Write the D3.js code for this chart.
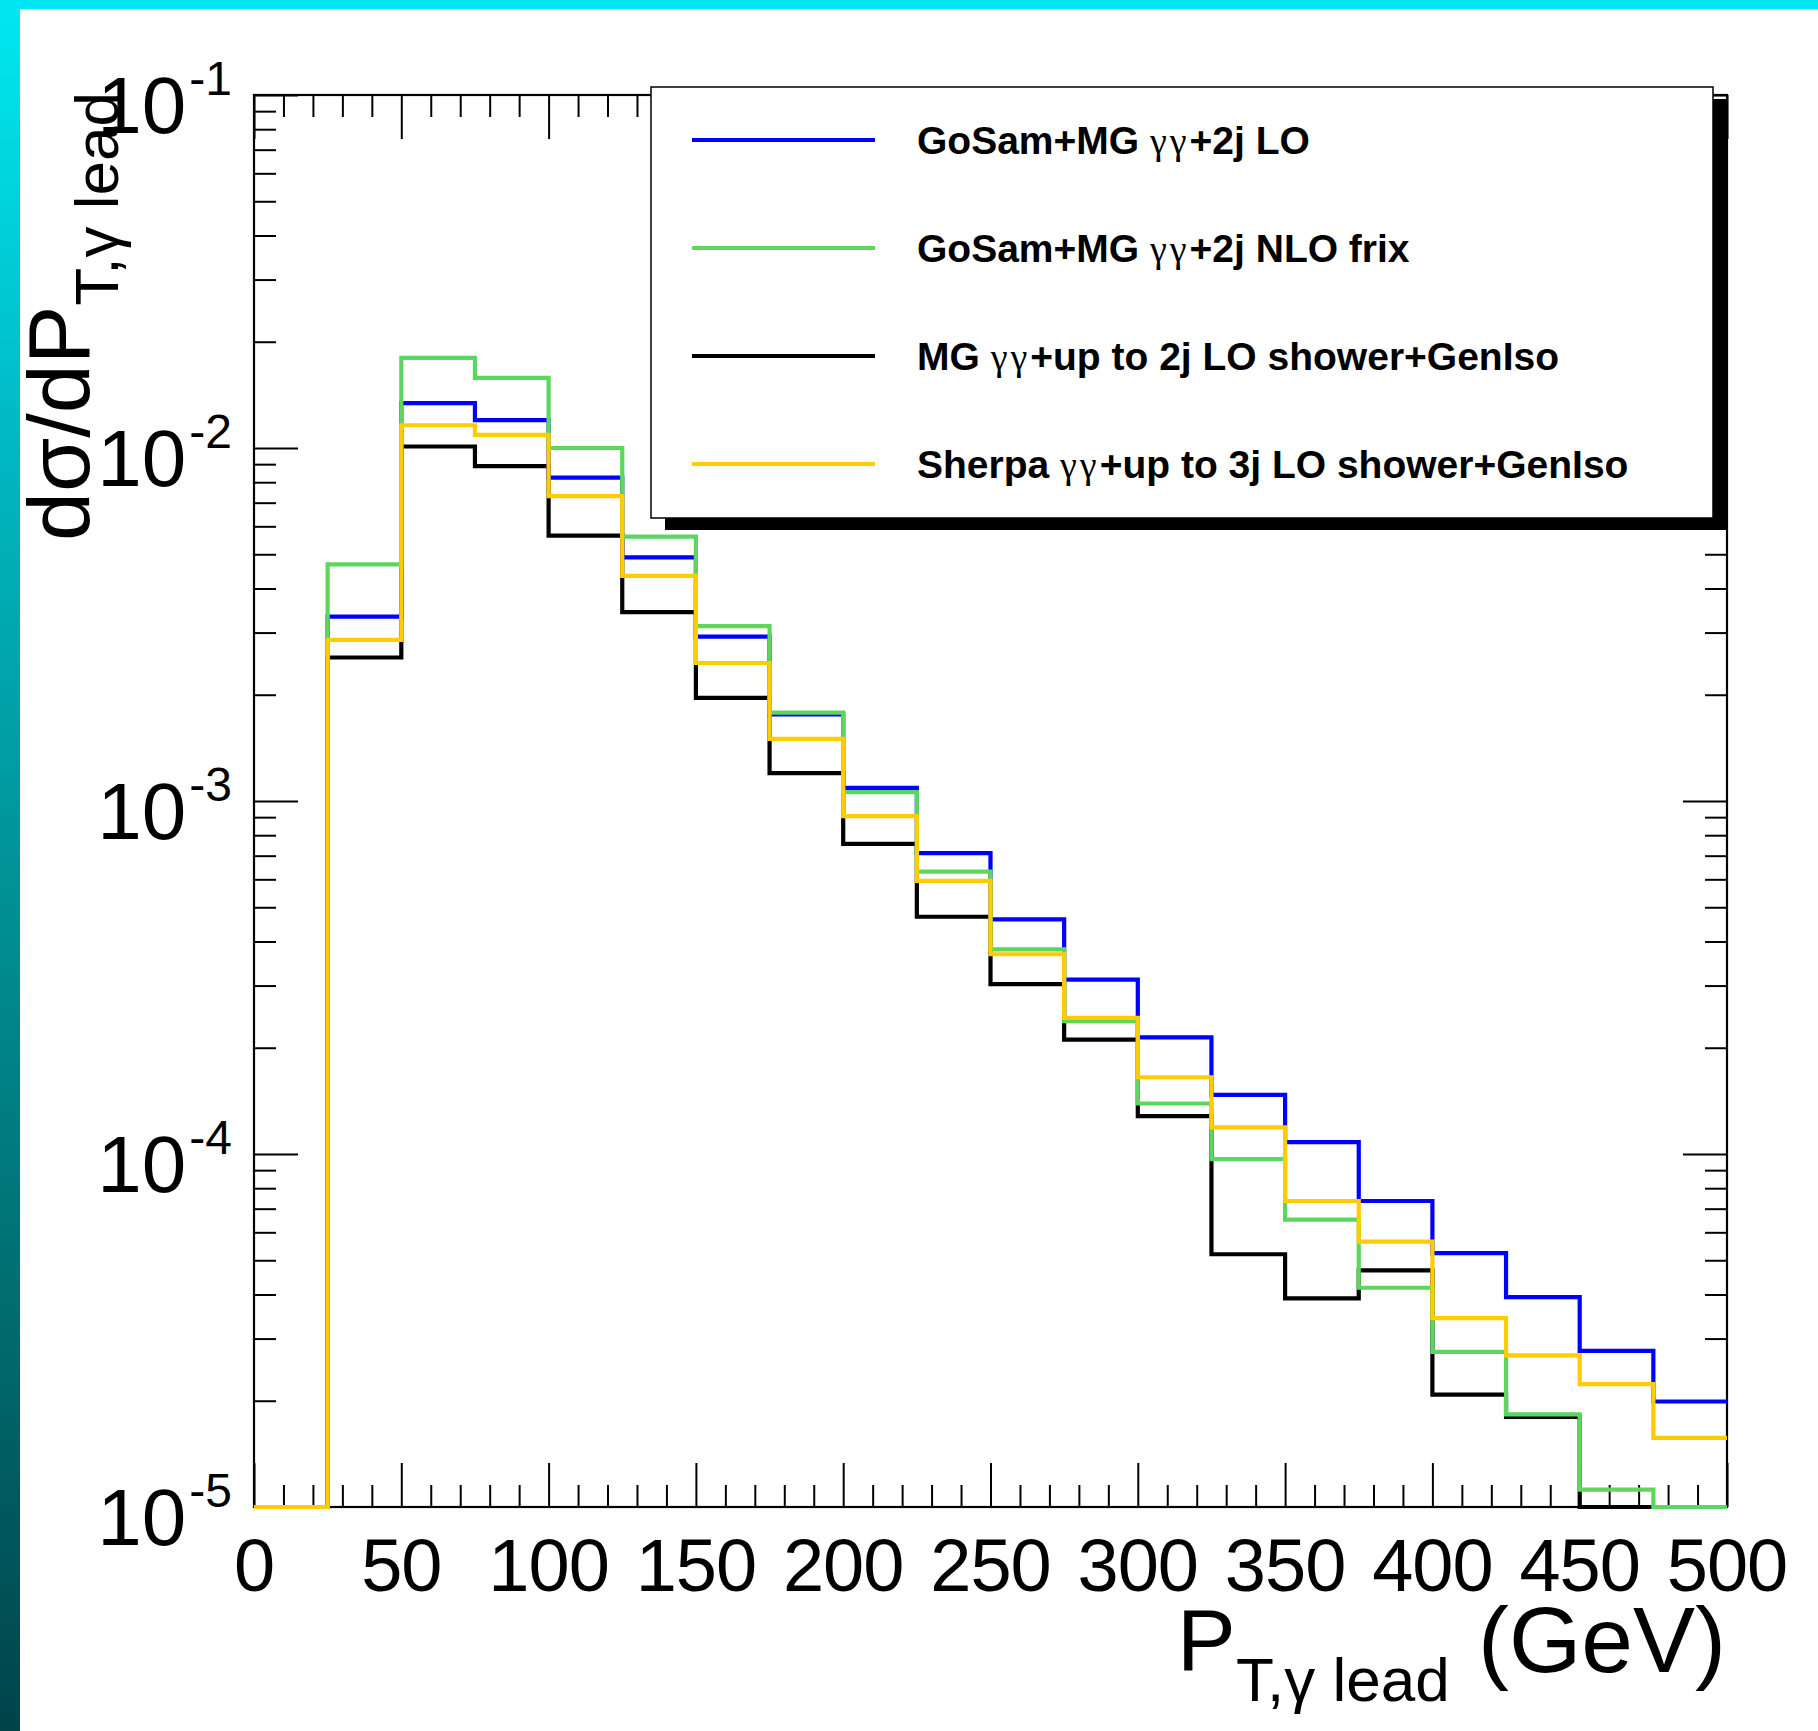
<!DOCTYPE html>
<html>
<head>
<meta charset="utf-8">
<script src="https://cdnjs.cloudflare.com/ajax/libs/d3/7.8.5/d3.min.js"></script>
<style>
  body { margin: 0; background: #fff; }
  svg { display: block; }
  text { font-family: "Liberation Sans", Arial, Helvetica, sans-serif; fill: #000; }
</style>
</head>
<body>
<div id="vis"></div>
<script>
const FRAME_WIDTH = 1818;
const FRAME_HEIGHT = 1731;
const MARGINS = {left: 254, right: 91, top: 95, bottom: 224};
const VIS_WIDTH = FRAME_WIDTH - MARGINS.left - MARGINS.right;
const VIS_HEIGHT = FRAME_HEIGHT - MARGINS.top - MARGINS.bottom;

// bin lower edges (GeV), last edge is 500
const binEdges = [0, 25, 50, 75, 100, 125, 150, 175, 200, 225,
                  250, 275, 300, 325, 350, 375, 400, 425, 450, 475];
const binEnd = 500;

// series values (0 = empty / below the axis)
const gosamLO = [0, 3.33e-3, 1.34e-2, 1.20e-2, 8.24e-3, 4.90e-3, 2.92e-3, 1.76e-3, 1.09e-3, 7.12e-4,
                 4.62e-4, 3.12e-4, 2.14e-4, 1.47e-4, 1.08e-4, 7.36e-5, 5.24e-5, 3.93e-5, 2.77e-5, 1.99e-5];
const gosamNLO = [0, 4.68e-3, 1.80e-2, 1.58e-2, 1.00e-2, 5.61e-3, 3.13e-3, 1.78e-3, 1.06e-3, 6.31e-4,
                  3.80e-4, 2.38e-4, 1.39e-4, 9.67e-5, 6.52e-5, 4.18e-5, 2.75e-5, 1.83e-5, 1.12e-5, 0];
const mgShower = [0, 2.55e-3, 1.01e-2, 8.89e-3, 5.65e-3, 3.43e-3, 1.96e-3, 1.20e-3, 7.56e-4, 4.70e-4,
                  3.03e-4, 2.11e-4, 1.28e-4, 5.20e-5, 3.90e-5, 4.68e-5, 2.08e-5, 1.80e-5, 0, 0];
const sherpaShower = [0, 2.86e-3, 1.16e-2, 1.09e-2, 7.31e-3, 4.34e-3, 2.46e-3, 1.50e-3, 9.06e-4, 5.94e-4,
                      3.68e-4, 2.43e-4, 1.65e-4, 1.19e-4, 7.36e-5, 5.65e-5, 3.43e-5, 2.69e-5, 2.23e-5, 1.57e-5];

// tick labels
const xTickLabels = [0, 50, 100, 150, 200, 250, 300, 350, 400, 450, 500];
const yDecades = [-5, -4, -3, -2, -1];

const legendNames = ["GoSam+MG", "GoSam+MG", "MG", "Sherpa"];
const legendTails = ["+2j LO", "+2j NLO frix", "+up to 2j LO shower+GenIso", "+up to 3j LO shower+GenIso"];

const FRAME1 = d3.select("#vis")
  .append("svg")
    .attr("width", FRAME_WIDTH)
    .attr("height", FRAME_HEIGHT);

// border bands
const grad = FRAME1.append("defs").append("linearGradient")
    .attr("id", "band").attr("x1", 0).attr("y1", 0).attr("x2", 0).attr("y2", 1);
[[0, "#00e8f0"], [0.25, "#00b9c4"], [0.51, "#009296"], [0.77, "#006a6d"], [1, "#00444a"]]
  .forEach(s => grad.append("stop").attr("offset", s[0]).attr("stop-color", s[1]));
FRAME1.append("rect").attr("x", 0).attr("y", 0).attr("width", 20).attr("height", FRAME_HEIGHT)
    .attr("fill", "url(#band)");
FRAME1.append("rect").attr("x", 0).attr("y", 0).attr("width", FRAME_WIDTH).attr("height", 9)
    .attr("fill", "#00e6f0");

const X_SCALE = d3.scaleLinear().domain([0, 500]).range([0, VIS_WIDTH]);
const Y_SCALE = d3.scaleLog().domain([1e-5, 1e-1]).range([VIS_HEIGHT, 0]).clamp(true);

const plot = FRAME1.append("g")
    .attr("transform", "translate(" + MARGINS.left + "," + MARGINS.top + ")");

// frame
plot.append("rect").attr("width", VIS_WIDTH).attr("height", VIS_HEIGHT)
    .attr("fill", "none").attr("stroke", "#000").attr("stroke-width", 2.2);

const xMinor = d3.range(0, 501, 10).filter(v => v % 50 !== 0);
const yMinor = [];
yDecades.slice(0, 4).forEach(d => { for (let k = 2; k <= 9; k++) yMinor.push(k * Math.pow(10, d)); });
const yMajor = yDecades.map(d => Math.pow(10, d));

function styleAxis(g) {
  g.select(".domain").remove();
  g.selectAll(".tick line").attr("stroke", "#000").attr("stroke-width", 2);
  g.selectAll(".tick text").remove();
}

// x ticks bottom and top
plot.append("g").attr("transform", "translate(0," + VIS_HEIGHT + ")")
    .call(d3.axisBottom(X_SCALE).tickValues(xTickLabels).tickSize(-44)).call(styleAxis);
plot.append("g").attr("transform", "translate(0," + VIS_HEIGHT + ")")
    .call(d3.axisBottom(X_SCALE).tickValues(xMinor).tickSize(-22)).call(styleAxis);
plot.append("g")
    .call(d3.axisTop(X_SCALE).tickValues(xTickLabels).tickSize(-44)).call(styleAxis);
plot.append("g")
    .call(d3.axisTop(X_SCALE).tickValues(xMinor).tickSize(-22)).call(styleAxis);

// y ticks left and right
plot.append("g").call(d3.axisLeft(Y_SCALE).tickValues(yMajor).tickSize(-44)).call(styleAxis);
plot.append("g").call(d3.axisLeft(Y_SCALE).tickValues(yMinor).tickSize(-22)).call(styleAxis);
plot.append("g").attr("transform", "translate(" + VIS_WIDTH + ",0)")
    .call(d3.axisRight(Y_SCALE).tickValues(yMajor).tickSize(-44)).call(styleAxis);
plot.append("g").attr("transform", "translate(" + VIS_WIDTH + ",0)")
    .call(d3.axisRight(Y_SCALE).tickValues(yMinor).tickSize(-22)).call(styleAxis);

// x tick labels
plot.selectAll(".xlab").data(xTickLabels).enter().append("text")
    .attr("x", d => X_SCALE(d))
    .attr("y", VIS_HEIGHT + 84)
    .attr("text-anchor", "middle")
    .attr("font-size", 74)
    .attr("letter-spacing", -1)
    .text(d => d);

// y tick labels 10^n
const ylab = plot.selectAll(".ylab").data(yDecades).enter().append("text")
    .attr("x", -22)
    .attr("y", d => Y_SCALE(Math.pow(10, d)) + 38)
    .attr("text-anchor", "end")
    .attr("font-size", 80);
ylab.append("tspan").text("10");
ylab.append("tspan").attr("font-size", 48).attr("dx", 3).attr("dy", -38).text(d => String(d));

// histograms
const SERIES = [
  {vals: mgShower, color: "#000000"},
  {vals: gosamLO, color: "#0000ff"},
  {vals: gosamNLO, color: "#5cd65c"},
  {vals: sherpaShower, color: "#ffcc00"}
];
const stepLine = d3.line()
    .x(d => X_SCALE(d[0]))
    .y(d => Y_SCALE(Math.max(d[1], 1e-5)))
    .curve(d3.curveStepAfter);

SERIES.forEach(s => {
  const pts = binEdges.map((e, i) => [e, s.vals[i]]);
  pts.push([binEnd, s.vals[s.vals.length - 1]]);
  plot.append("path")
      .attr("d", stepLine(pts))
      .attr("fill", "none")
      .attr("stroke", s.color)
      .attr("stroke-width", 4.2);
});

// axis titles
const ytitle = FRAME1.append("text")
    .attr("transform", "translate(89,92) rotate(-90)")
    .attr("text-anchor", "end")
    .attr("font-size", 88);
ytitle.append("tspan").text("d\u03c3/dP");
ytitle.append("tspan").attr("font-size", 62).attr("dy", 29).text("T,\u03b3 lead");

FRAME1.append("text").attr("x", 1177).attr("y", 1670).attr("font-size", 88).text("P");
FRAME1.append("text").attr("x", 1236).attr("y", 1701).attr("font-size", 62).text("T,\u03b3 lead");
FRAME1.append("text").attr("x", 1726).attr("y", 1672).attr("text-anchor", "end")
    .attr("font-size", 93).text("(GeV)");

// legend
const LEG = {x: 651, y: 87, w: 1062, h: 431};
FRAME1.append("rect").attr("x", LEG.x + 14).attr("y", LEG.y + 12)
    .attr("width", LEG.w).attr("height", LEG.h).attr("fill", "#000");
FRAME1.append("rect").attr("x", LEG.x).attr("y", LEG.y)
    .attr("width", LEG.w).attr("height", LEG.h)
    .attr("fill", "#fff").attr("stroke", "#000").attr("stroke-width", 1.5);

const legColors = ["#0000ff", "#5cd65c", "#000000", "#ffcc00"];
const legRows = [140, 248, 356, 464];
legRows.forEach((ry, i) => {
  FRAME1.append("line").attr("x1", 692).attr("x2", 875).attr("y1", ry).attr("y2", ry)
      .attr("stroke", legColors[i]).attr("stroke-width", 4);
  const t = FRAME1.append("text").attr("x", 917).attr("y", ry + 14)
      .attr("font-size", 39).attr("font-weight", "bold");
  t.append("tspan").text(legendNames[i] + " ");
  t.append("tspan").attr("font-weight", "normal").attr("font-family", "Liberation Serif")
      .attr("font-size", 38).attr("letter-spacing", 3).text("\u03b3\u03b3");
  t.append("tspan").text(legendTails[i]);
});
</script>
</body>
</html>
